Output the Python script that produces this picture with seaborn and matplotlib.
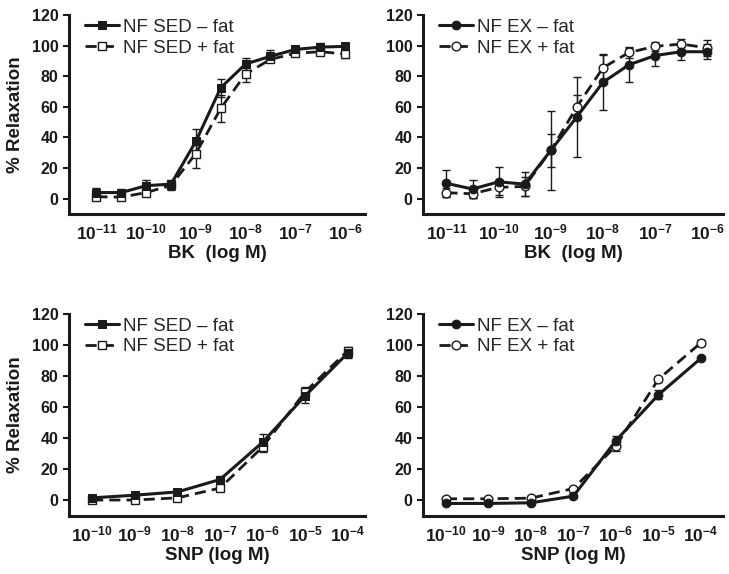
import numpy as np
import pandas as pd
import matplotlib
matplotlib.use("Agg")
import matplotlib.pyplot as plt
import seaborn as sns

# log10 molar concentrations
bk_logm = [-11, -10.5, -10, -9.5, -9, -8.5, -8, -7.5, -7, -6.5, -6]
snp_logm = [-10, -9, -8, -7, -6, -5, -4]
bk_ticks = [-11, -10, -9, -8, -7, -6]
snp_ticks = [-10, -9, -8, -7, -6, -5, -4]

# BK, sedentary
sed_bk_minus = [4, 4, 8.5, 9.5, 37.5, 72.5, 88, 93, 97.5, 99, 99.5]
sed_bk_minus_err = [3, 2, 4, 3, 8, 6, 4, 4, 2, 2.5, 2]
sed_bk_plus = [1.3, 1, 4, 8.7, 29.5, 59, 81.5, 91, 95, 96, 94.5]
sed_bk_plus_err = [1.5, 1.5, 2, 3, 9.5, 9, 5, 2, 2, 2, 2.5]

# BK, exercise
ex_bk_minus = [10, 6.3, 11, 9.5, 31.5, 53.5, 76, 87.5, 93.5, 96, 96]
ex_bk_minus_err = [9, 6, 10, 8, 26, 26, 18, 11, 7, 5.5, 5]
ex_bk_plus = [3.9, 3.2, 7.4, 8, 31.5, 60, 85.5, 95.5, 99.5, 101, 98.5]
ex_bk_plus_err = [3, 3, 5, 6, 11, 8, 9, 3.5, 3, 3, 5]

# SNP, sedentary
sed_snp_minus = [1.7, 3.4, 5.5, 13.5, 37.5, 67.5, 95]
sed_snp_minus_err = [1, 1, 1, 2, 5, 5, 3]
sed_snp_plus = [0.3, 0.3, 1.7, 8, 34.5, 70, 96.5]
sed_snp_plus_err = [1, 1, 1, 2, 3, 3, 2]

# SNP, exercise
ex_snp_minus = [-1.9, -1.9, -1.5, 2.8, 38.5, 68, 91.5]
ex_snp_minus_err = [1, 1, 1, 1, 3, 3, 1]
ex_snp_plus = [1.1, 1.1, 1.5, 7.7, 35, 78, 101.5]
ex_snp_plus_err = [1, 1, 1, 1, 3, 1.5, 2]

sns.set_theme(style="ticks")
plt.rcParams["font.family"] = ["Liberation Sans", "DejaVu Sans"]
plt.rcParams["mathtext.fontset"] = "custom"
plt.rcParams["mathtext.rm"] = "Liberation Sans:bold"
plt.rcParams["mathtext.it"] = "Liberation Sans:bold"
plt.rcParams["mathtext.bf"] = "Liberation Sans:bold"

fig = plt.figure(figsize=(7.29, 5.74), dpi=100)

panels = [
    # rect, x, ticks, xlim, series, marker, group, xlabel, ylabel
    ([0.0947, 0.6272, 0.406, 0.3467], bk_logm, bk_ticks, (-11.55, -5.6),
     (sed_bk_minus, sed_bk_minus_err, sed_bk_plus, sed_bk_plus_err), "s", "SED",
     "BK  (log M)", True),
    ([0.5802, 0.6272, 0.4115, 0.3467], bk_logm, bk_ticks, (-11.45, -5.7),
     (ex_bk_minus, ex_bk_minus_err, ex_bk_plus, ex_bk_plus_err), "o", "EX",
     "BK  (log M)", False),
    ([0.0947, 0.1010, 0.406, 0.3519], snp_logm, snp_ticks, (-10.54, -3.6),
     (sed_snp_minus, sed_snp_minus_err, sed_snp_plus, sed_snp_plus_err), "s", "SED",
     "SNP (log M)", True),
    ([0.5802, 0.1010, 0.4115, 0.3519], snp_logm, snp_ticks, (-10.54, -3.48),
     (ex_snp_minus, ex_snp_minus_err, ex_snp_plus, ex_snp_plus_err), "o", "EX",
     "SNP (log M)", False),
]

ink = "#1a1a1a"

for rect, xs, ticks, xlim, series, marker, group, xlabel, show_ylabel in panels:
    ax = fig.add_axes(rect)
    y_minus, e_minus, y_plus, e_plus = series
    msize = 6 if marker == "s" else 6.3
    # error bars first, so markers sit on top
    ax.errorbar(xs, y_minus, yerr=e_minus, fmt="none", ecolor=ink,
                elinewidth=1, capsize=3, capthick=1, zorder=2)
    ax.errorbar(xs, y_plus, yerr=e_plus, fmt="none", ecolor=ink,
                elinewidth=1, capsize=3, capthick=1, zorder=2)
    sns.lineplot(x=xs, y=y_minus, ax=ax, color=ink, linewidth=2.2,
                 marker=marker, markersize=msize, markerfacecolor=ink,
                 markeredgecolor=ink, label=f"NF {group} \u2013 fat", zorder=4)
    sns.lineplot(x=xs, y=y_plus, ax=ax, color=ink, linewidth=2.0,
                 linestyle=(0, (4, 2.2)), marker=marker, markersize=msize,
                 markerfacecolor="white", markeredgecolor=ink,
                 markeredgewidth=1.0, label=f"NF {group} + fat", zorder=3)

    ax.set_xlim(*xlim)
    ax.set_ylim(-10, 120)
    ax.set_yticks([0, 20, 40, 60, 80, 100, 120])
    ax.set_xticks(ticks)
    ax.set_xticklabels([f"$10^{{{t}}}$" for t in ticks])
    for lab in ax.get_yticklabels():
        lab.set_fontweight("bold")
    ax.tick_params(axis="x", length=0, pad=6, labelsize=12.5, colors=ink)
    ax.tick_params(axis="y", length=4, width=1.5, labelsize=11.5, colors=ink)
    sns.despine(ax=ax)
    for side in ("left", "bottom"):
        ax.spines[side].set_linewidth(2.2)
        ax.spines[side].set_color(ink)
    ax.set_xlabel(xlabel, fontsize=13.5, fontweight="bold", color=ink, labelpad=2)
    if show_ylabel:
        ax.set_ylabel("% Relaxation", fontsize=13.5, fontweight="bold",
                      color=ink, labelpad=6)
    else:
        ax.set_ylabel("")
    ax.legend(loc="upper left", bbox_to_anchor=(0.03, 1.02), frameon=False,
              fontsize=13.5, handlelength=1.8, handletextpad=0.2,
              labelspacing=0.2, borderaxespad=0)

fig.savefig("out.png", dpi=100)
